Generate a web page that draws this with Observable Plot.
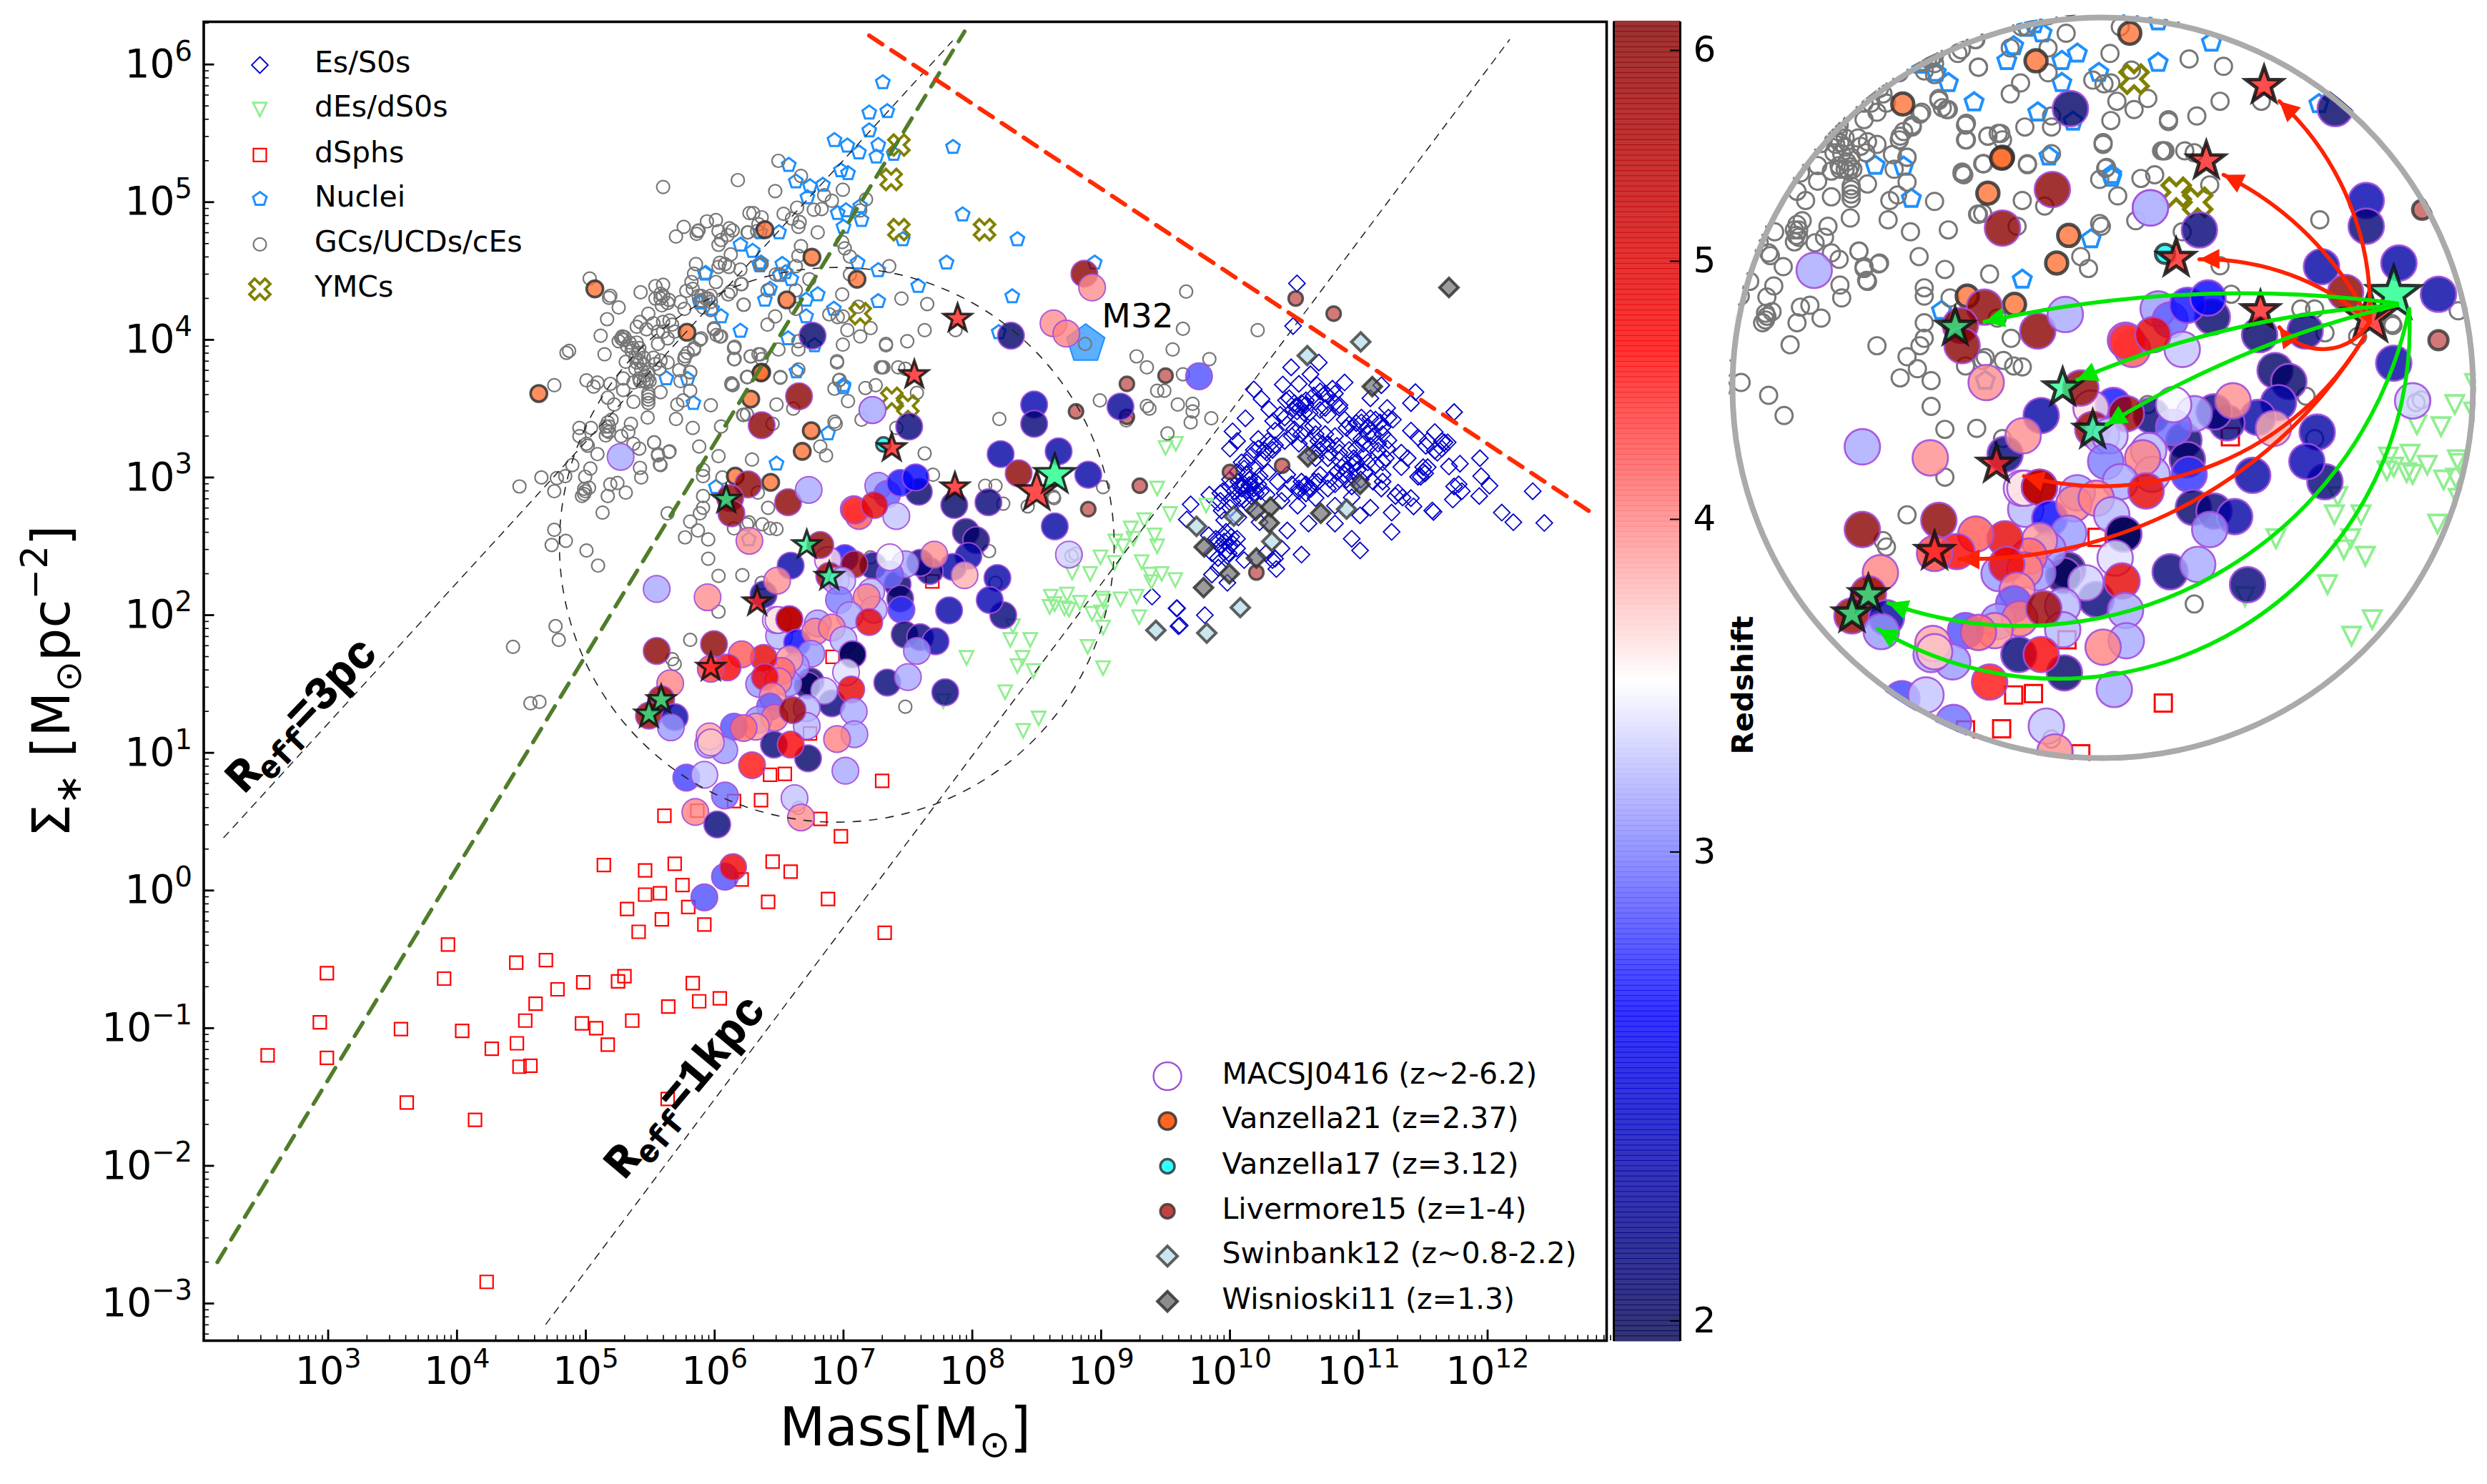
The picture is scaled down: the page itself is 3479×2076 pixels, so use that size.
<!DOCTYPE html>
<html><head><meta charset="utf-8">
<script src="https://cdn.jsdelivr.net/npm/d3@7"></script>
<script src="https://cdn.jsdelivr.net/npm/@observablehq/plot@0.6"></script>
<style>
html,body{margin:0;padding:0;background:#fff;color:#000}
#fig{position:relative;width:3479px;height:2076px;overflow:hidden;background:#fff}
#fig svg{position:absolute;overflow:visible}
</style></head><body><div id="fig"></div>
<script>
// All values are log10(mass), log10(surface density).
const esLog=[[10.52,4.41],[10.49,4.10],[10.69,3.835],[10.475,3.80],[10.625,3.75],[10.89,3.69],[10.675,3.67],[10.535,3.68],[10.41,3.675],[11.175,3.67],[11.44,3.62],[11.405,3.54],[11.09,3.575],[11.22,3.505],[10.795,3.645],[10.74,3.61],[10.185,3.64],[10.245,3.57],[10.435,3.56],[10.555,3.54],[10.665,3.55],[10.815,3.54],[11.74,3.475],[10.12,3.43],[10.305,3.495],[10.51,3.515],[10.62,3.47],[10.74,3.505],[10.85,3.505],[11.09,3.43],[11.23,3.435],[11.265,3.42],[10.335,3.41],[10.425,3.435],[10.535,3.42],[10.645,3.375],[11.02,3.435],[10.98,3.395],[11.185,3.365],[11.405,3.34],[11.59,3.33],[10.02,3.335],[10.055,3.265],[10.0,3.21],[10.22,3.28],[10.35,3.34],[10.48,3.30],[10.62,3.265],[10.815,3.30],[10.905,3.36],[10.96,3.315],[11.11,3.30],[11.23,3.27],[11.46,3.29],[11.535,3.265],[11.665,3.255],[11.69,3.255],[10.185,3.20],[10.27,3.195],[10.35,3.235],[10.425,3.265],[10.535,3.245],[10.70,3.20],[10.76,3.245],[10.83,3.23],[10.925,3.20],[11.035,3.245],[11.15,3.195],[11.21,3.14],[11.33,3.18],[11.38,3.14],[11.52,3.23],[11.61,3.18],[11.94,3.14],[10.13,3.11],[10.25,3.125],[10.11,3.065],[10.665,3.14],[10.76,3.14],[10.85,3.125],[10.96,3.14],[11.07,3.11],[11.13,3.09],[11.33,3.075],[11.5,3.075],[11.515,3.03],[11.48,3.005],[11.7,3.08],[11.785,3.10],[11.95,3.01],[10.0,2.985],[10.065,2.97],[10.15,2.985],[10.23,3.01],[10.37,2.97],[10.445,3.02],[10.59,2.95],[10.63,2.92],[10.70,3.02],[10.815,2.95],[10.89,3.02],[10.96,3.0],[11.045,3.04],[11.185,2.97],[11.175,2.92],[11.305,2.89],[11.775,2.95],[11.80,2.9],[11.74,2.935],[12.015,2.94],[11.935,2.865],[11.73,2.84],[9.84,2.875],[9.925,2.885],[10.035,2.90],[10.09,2.92],[10.165,2.935],[10.20,2.885],[10.11,2.84],[10.285,2.875],[10.425,2.885],[10.535,2.90],[10.59,2.885],[10.665,2.85],[10.76,2.92],[10.945,2.855],[11.285,2.865],[11.34,2.855],[11.405,2.85],[9.695,2.805],[9.907,2.815],[10.0,2.78],[10.15,2.795],[10.4,2.83],[10.525,2.795],[11.09,2.78],[11.425,2.79],[11.255,2.745],[9.935,2.76],[10.815,2.795],[11.01,2.725],[11.57,2.76],[11.58,2.75],[12.11,2.745],[12.2,2.675],[9.665,2.695],[9.955,2.69],[10.065,2.71],[10.23,2.675],[10.445,2.615],[10.61,2.665],[10.815,2.665],[11.255,2.605],[10.945,2.555],[11.01,2.47],[9.835,2.58],[9.905,2.545],[9.97,2.605],[10.02,2.52],[10.055,2.485],[9.955,2.535],[9.99,2.45],[10.4,2.485],[10.555,2.44],[9.86,2.45],[10.35,2.41],[10.11,2.40],[9.91,2.345],[10.36,2.335],[10.28,2.45],[9.86,2.295],[9.98,2.235],[9.59,2.05],[9.805,2.0],[9.61,1.925],[9.395,2.135],[9.585,2.05],[9.6,1.92],[10.5,3.54],[10.545,3.505],[10.585,3.525],[10.52,3.48],[10.575,3.47],[10.11,2.95],[10.15,2.945],[10.185,2.92],[10.08,2.935],[10.13,2.90],[10.195,2.97],[10.87,3.075],[10.905,3.05],[10.945,3.085],[10.99,3.055],[10.83,3.04],[10.315,3.245],[10.285,3.18],[10.33,3.20],[10.575,2.935],[10.655,2.97],[9.955,2.57],[10.0,2.505],[9.97,2.465],[12.35,2.90],[12.44,2.67],[10.46,3.575],[10.59,3.56],[10.65,3.595],[10.70,3.625],[10.76,3.595],[10.815,3.61],[10.85,3.525],[10.70,3.49],[10.76,3.455],[10.445,3.385],[10.39,3.455],[10.5,3.35],[10.555,3.315],[10.59,3.35],[10.665,3.315],[10.74,3.315],[10.685,3.265],[10.89,3.42],[10.925,3.385],[11.02,3.40],[11.07,3.37],[11.13,3.42],[11.165,3.40],[11.185,3.315],[11.07,3.315],[11.02,3.28],[10.98,3.21],[11.09,3.23],[11.15,3.245],[11.22,3.21],[11.185,3.11],[11.035,3.16],[10.98,3.11],[10.85,3.18],[10.775,3.18],[10.72,3.245],[10.65,3.18],[10.295,3.265],[10.22,3.21],[10.165,3.16],[10.09,3.11],[10.055,3.04],[10.13,3.02],[10.2,3.075],[10.295,3.04],[10.0,2.935],[9.945,2.90],[9.925,2.83],[10.02,2.83],[10.075,2.85],[10.165,2.865],[10.24,2.90],[10.22,2.95],[10.48,2.95],[10.555,2.97],[10.535,2.92],[10.61,2.92],[10.685,2.97],[10.775,2.985],[10.85,2.985],[10.905,2.985],[10.945,2.935],[11.015,2.985],[11.11,2.97],[11.185,3.02],[11.5,3.04],[11.46,3.005],[11.535,3.075],[11.645,3.21],[11.59,3.195],[11.645,3.264],[9.89,2.555],[9.925,2.50],[10.01,2.57],[9.98,2.43],[10.055,2.555],[10.33,2.40],[9.907,2.415]];
const deLog=[[9.435,2.92],[9.535,2.735],[9.815,2.795],[9.335,2.69],[9.23,2.63],[9.415,2.58],[9.435,2.50],[9.25,2.555],[9.11,2.535],[9.17,2.50],[8.995,2.42],[9.105,2.38],[9.315,2.385],[8.775,2.31],[8.915,2.30],[9.38,2.295],[9.47,2.30],[9.39,2.24],[9.575,2.255],[8.61,2.135],[8.735,2.15],[8.64,2.08],[8.60,2.06],[8.715,2.05],[8.75,2.04],[8.835,2.09],[9.01,2.12],[9.02,2.10],[9.15,2.115],[9.275,2.135],[8.93,2.01],[9.0,2.02],[9.295,1.985],[9.015,1.91],[8.315,1.92],[8.295,1.82],[8.45,1.82],[8.39,1.69],[7.955,1.69],[8.35,1.63],[8.475,1.595],[8.895,1.77],[9.015,1.615],[8.255,1.44],[8.515,1.25],[8.395,1.16],[7.775,1.375],[9.58,3.245],[9.5,3.215]];
const dsphLog=[[5.61,.543],[5.865,.58],[6.15,.65],[6.36,.656],[6.82,.52],[6.98,.394],[7.30,.796],[6.43,.84],[6.545,.847],[6.74,1.14],[5.14,.185],[5.46,.146],[5.69,.194],[5.75,.04],[5.575,-.02],[5.46,-.03],[5.32,-.134],[5.795,-.12],[5.59,-.21],[5.41,-.30],[5.92,-.247],[6.21,.08],[6.45,.21],[6.59,.137],[6.415,-.083],[6.88,-.062],[7.32,-.307],[3.93,-.393],[2.99,-.60],[3.90,-.64],[4.46,-.524],[4.69,-.506],[4.98,-.667],[5.25,-.66],[5.30,-.623],[4.78,-.718],[4.61,-.822],[5.83,-.673],[5.88,-.805],[6.04,-.784],[5.64,-.843],[5.36,-.945],[4.53,-.945],[4.97,-.965],[5.08,-1.0],[2.935,-.957],[3.565,-1.007],[4.04,-1.02],[2.53,-1.198],[2.99,-1.216],[4.27,-1.15],[4.465,-1.11],[4.485,-1.28],[4.57,-1.273],[5.17,-1.12],[3.61,-1.54],[4.14,-1.666],[5.635,-1.514],[4.23,-2.843],[7.69,2.245],[6.915,1.697]];
const nucLog=[[7.305,5.87],[7.2,5.65],[7.34,5.66],[7.20,5.52],[6.93,5.45],[7.03,5.41],[7.12,5.36],[7.27,5.415],[7.255,5.33],[7.39,5.35],[7.85,5.40],[6.575,5.27],[6.98,5.23],[7.035,5.21],[6.63,5.15],[6.74,5.115],[6.84,5.125],[6.72,5.035],[6.955,4.92],[7.02,4.94],[7.13,4.97],[7.14,4.87],[7.00,4.82],[7.925,4.91],[8.35,4.73],[7.46,4.73],[6.50,4.78],[6.355,4.78],[6.20,4.69],[6.295,4.645],[6.355,4.55],[6.35,4.54],[6.36,4.56],[6.345,4.55],[6.525,4.55],[7.11,4.56],[7.80,4.56],[7.27,4.505],[7.58,4.39],[8.31,4.315],[6.595,4.44],[6.55,4.49],[6.505,4.47],[6.43,4.37],[6.39,4.29],[6.71,4.29],[6.80,4.33],[7.27,4.28],[6.925,4.225],[6.71,4.17],[6.05,4.17],[6.2,4.065],[6.57,4.01],[6.775,3.96],[8.205,4.055],[5.93,4.485],[5.885,4.28],[5.98,4.225],[6.635,3.77],[5.79,3.715],[7.0,3.67],[8.95,4.56],[5.925,4.48],[5.625,3.72],[5.835,3.54],[5.90,4.275],[5.885,4.27],[7.0,3.655],[6.88,3.32],[6.48,3.10],[6.01,2.93],[6.265,2.55]];
const gcLog=[[5.60,5.11],[6.18,5.16],[6.27,4.92],[6.30,4.92],[6.01,4.87],[5.94,4.86],[5.76,4.82],[5.70,4.75],[5.87,4.79],[5.86,4.77],[5.875,4.795],[6.03,4.79],[6.115,4.81],[6.14,4.795],[6.10,4.76],[6.05,4.725],[6.03,4.69],[6.125,4.62],[6.255,4.78],[6.33,4.79],[5.855,4.55],[6.04,4.56],[6.08,4.55],[6.03,4.53],[6.11,4.53],[6.20,4.51],[5.84,4.48],[5.82,4.42],[6.01,4.42],[6.21,4.405],[5.03,4.445],[5.19,4.32],[5.18,4.305],[5.255,4.235],[5.425,4.345],[5.54,4.39],[5.60,4.40],[5.58,4.335],[5.54,4.30],[5.645,4.29],[5.59,4.25],[5.78,4.355],[5.735,4.275],[5.765,4.225],[5.83,4.37],[5.895,4.32],[5.93,4.30],[5.97,4.275],[5.91,4.235],[5.97,4.215],[6.105,4.33],[6.225,4.255],[5.165,4.15],[5.115,4.03],[5.145,3.895],[4.85,3.905],[4.87,3.92],[5.485,4.19],[5.42,4.13],[5.395,4.095],[5.525,4.12],[5.60,4.13],[5.65,4.14],[5.56,4.06],[5.69,4.06],[5.635,4.01],[5.56,3.97],[5.275,4.01],[5.255,3.99],[5.30,4.02],[5.34,3.98],[5.395,3.98],[5.415,3.94],[5.355,3.92],[5.895,4.01],[5.995,4.085],[6.04,4.025],[6.015,4.035],[5.84,3.94],[5.79,3.905],[5.765,3.86],[6.155,3.95],[6.155,3.86],[6.28,3.88],[6.34,3.895],[5.31,3.84],[5.385,3.87],[5.42,3.845],[5.45,3.82],[5.385,3.79],[5.54,3.825],[5.57,3.79],[5.635,3.835],[5.725,3.78],[5.81,3.765],[5.29,3.72],[5.19,3.68],[5.005,3.705],[5.09,3.69],[5.06,3.66],[4.755,3.67],[5.37,3.69],[5.42,3.70],[5.47,3.69],[5.495,3.70],[5.485,3.59],[5.485,3.54],[5.37,3.55],[5.58,3.62],[5.29,3.635],[5.17,3.58],[5.22,3.53],[5.735,3.70],[5.81,3.63],[5.71,3.53],[5.755,3.56],[5.97,3.525],[6.255,3.73],[6.13,3.675],[5.48,3.435],[5.35,3.39],[5.20,3.42],[5.70,3.425],[5.83,3.36],[6.05,3.37],[6.225,3.455],[5.88,3.225],[4.95,3.36],[5.04,3.36],[4.95,3.30],[5.165,3.34],[5.18,3.37],[5.155,3.305],[5.275,3.30],[5.33,3.33],[5.53,3.255],[5.37,3.245],[5.415,3.21],[5.56,3.17],[5.645,3.185],[5.015,3.23],[5.09,3.17],[5.42,3.07],[5.575,3.095],[6.03,3.155],[5.43,3.00],[4.895,3.09],[5.035,3.065],[4.995,3.005],[4.84,3.01],[4.775,2.995],[4.655,3.0],[4.485,2.935],[4.755,2.90],[5.025,2.925],[4.995,2.90],[5.19,2.95],[5.245,2.96],[5.31,2.89],[5.17,2.865],[4.97,2.865],[5.91,3.055],[5.91,3.01],[6.29,3.13],[6.06,3.0],[5.13,2.745],[4.755,2.62],[4.845,2.54],[4.735,2.51],[5.005,2.47],[5.095,2.36],[4.765,1.92],[4.79,1.82],[4.435,1.77],[4.57,1.36],[4.64,1.37],[5.635,2.74],[5.53,3.255],[5.56,3.16],[5.65,3.19],[5.58,3.09],[5.91,2.865],[5.81,2.68],[5.885,2.74],[5.91,2.78],[5.87,2.615],[5.77,2.565],[5.95,2.55],[5.95,2.41],[6.03,2.285],[6.215,2.29],[6.03,2.025],[6.15,2.63],[6.25,2.66],[6.37,2.66],[6.43,2.63],[6.48,2.625],[6.415,2.78],[6.335,2.89],[5.81,1.82],[5.67,1.68],[5.69,1.645],[6.265,2.675],[7.21,2.42],[6.365,2.235],[7.48,1.335],[6.65,.60],[6.14,3.67],[6.25,3.73],[6.51,3.725],[6.61,3.50],[6.48,3.53],[6.22,3.455],[6.25,3.46],[6.45,3.39],[6.93,3.645],[6.97,3.71],[7.035,3.555],[7.17,3.65],[7.25,3.67],[7.31,3.80],[7.29,3.80],[7.425,3.80],[7.48,3.79],[6.95,3.835],[7.57,3.615],[7.41,3.36],[6.93,3.405],[6.94,3.39],[6.865,3.16],[6.82,3.225],[7.63,3.175],[7.695,3.02],[8.21,3.425],[8.10,2.94],[8.18,2.94],[8.24,2.81],[8.43,2.79],[8.635,2.85],[8.13,2.465],[8.18,2.235],[8.77,2.43],[7.14,3.42],[6.495,5.30],[6.47,5.08],[6.67,5.19],[6.85,5.05],[6.995,5.09],[6.91,5.01],[6.77,4.945],[6.83,4.95],[6.64,4.96],[6.535,4.915],[6.60,4.88],[6.66,4.855],[6.65,4.82],[7.175,5.02],[7.13,4.94],[6.80,4.78],[6.365,4.89],[6.34,4.84],[6.26,4.78],[6.99,4.71],[7.01,4.665],[6.67,4.68],[6.65,4.61],[7.05,4.605],[7.355,4.535],[6.63,4.535],[6.475,4.475],[6.505,4.475],[6.365,4.55],[6.355,4.545],[6.735,4.44],[7.05,4.475],[6.99,4.33],[7.45,4.30],[7.65,4.26],[6.41,4.36],[6.225,4.255],[6.205,4.405],[6.125,4.35],[6.63,4.36],[6.47,4.17],[6.41,4.11],[6.63,4.225],[6.89,4.185],[6.955,4.165],[6.995,4.17],[7.03,4.07],[7.21,4.085],[7.13,4.025],[7.115,4.24],[7.63,4.07],[7.87,4.07],[7.495,3.99],[7.33,3.97],[7.33,3.96],[6.995,3.965],[6.95,3.845],[6.495,3.93],[6.65,3.93],[6.65,3.99],[6.15,3.94],[6.15,3.86],[6.28,3.88],[6.355,3.895],[6.365,3.86],[7.30,3.80],[6.255,3.73],[6.51,3.73],[6.65,3.785],[6.13,3.685],[6.965,3.705],[6.05,4.025],[5.995,4.075],[5.885,4.0],[5.84,3.93],[5.77,3.88],[5.81,3.765],[9.66,4.35],[10.215,4.07],[9.635,4.08],[9.555,3.93],[9.275,3.88],[9.355,3.80],[9.84,3.86],[9.635,3.75],[9.435,3.63],[9.49,3.63],[8.99,3.56],[9.355,3.52],[9.375,3.50],[9.595,3.53],[9.71,3.535],[9.71,3.48],[9.855,3.43],[9.695,3.40],[9.515,3.32],[9.195,3.415],[8.875,3.97],[9.015,2.93],[8.63,2.86],[8.80,2.445],[5.41,3.905],[5.45,3.87],[5.395,3.835],[5.43,3.785],[5.485,3.765],[5.525,3.87],[5.58,3.85],[5.415,3.72],[5.45,3.70],[5.48,3.714],[5.46,3.74],[5.283,4.025],[5.29,4.0],[5.32,3.955],[5.365,3.94],[5.47,4.077],[5.58,4.30],[5.60,4.32],[5.635,4.267],[5.895,4.285],[5.95,4.30],[5.875,4.32],[5.97,4.32],[5.67,4.11],[5.60,4.06],[5.485,3.61],[5.485,3.565],[5.155,3.37],[5.18,3.33],[5.17,3.40],[5.005,3.245],[4.987,2.917],[4.987,2.88]];
const ymcLog=[[7.43,5.415],[7.37,5.165],[7.43,4.80],[8.095,4.80],[7.13,4.19],[7.375,3.575],[7.50,3.52]];
const m32Log=[[8.88,3.97]];
// log10(mass), log10(density), redshift
const macsLog=[[5.27,3.15,3.15],[6.655,3.59,6],[6.365,3.38,6],[6.76,4.03,2.05],[8.30,4.03,2.05],[7.225,3.49,3.15],[7.225,3.49,3.2],[7.51,3.37,2.1],[8.48,3.53,2.3],[8.48,3.39,2.1],[8.22,3.17,2.25],[8.67,3.19,2.25],[8.36,3.03,6],[8.90,3.02,2.25],[8.64,2.645,2.25],[8.75,2.44,3.3],[9.15,3.515,2.2],[8.87,4.48,6],[8.93,4.38,3.95],[8.63,4.12,3.95],[8.73,4.045,4.0],[9.76,3.735,2.85],[6.26,2.95,6],[6.12,2.85,6],[6.13,2.74,6],[6.57,2.82,6],[6.73,2.91,3.15],[6.27,2.54,3.95],[5.945,2.13,3.95],[5.55,2.19,3.15],[7.27,2.94,3.1],[7.34,2.88,2.9],[7.585,2.896,2.05],[7.44,2.96,2.65],[7.56,3.0,2.6],[7.12,2.72,4.2],[7.08,2.77,4.3],[7.09,2.76,4.4],[7.41,2.72,3.25],[7.24,2.80,4.9],[7.86,2.80,2.05],[8.125,2.82,2.1],[7.95,2.605,2.05],[8.03,2.545,2.05],[7.97,2.43,2.25],[7.85,2.35,2.25],[7.67,2.32,2.1],[7.595,2.38,2.1],[7.705,2.44,3.95],[7.94,2.29,3.8],[7.42,2.225,2.05],[7.44,2.12,2.05],[7.23,2.36,2.1],[7.48,2.37,3.15],[7.36,2.295,2.95],[7.36,2.42,3.45],[7.45,2.04,2.75],[7.01,2.415,2.65],[6.88,2.40,3.6],[6.82,2.51,6],[6.89,2.285,5.8],[7.085,2.37,5.8],[6.59,2.36,2.25],[6.38,2.15,2.1],[6.485,2.25,3.95],[6.94,2.25,3.25],[6.99,2.25,3.25],[6.965,2.11,3.0],[7.215,2.17,3.2],[7.235,2.04,3.2],[7.18,2.13,4.0],[7.05,2.0,3.15],[7.20,1.95,4.9],[7.82,2.035,2.25],[8.195,2.27,2.25],[8.24,2.0,2.1],[8.135,2.11,2.3],[7.475,1.86,2.05],[7.595,1.84,2.1],[7.715,1.81,2.25],[7.57,1.74,3.1],[7.34,1.51,2.1],[7.50,1.55,3.15],[7.79,1.44,2.1],[6.50,1.85,3.2],[6.475,1.965,3.4],[6.495,1.965,3.6],[6.58,1.97,5.4],[6.58,1.97,5.4],[6.64,1.80,2.6],[6.80,1.94,3.15],[6.78,1.88,4.0],[6.91,1.91,4.0],[7.0,1.82,3.2],[6.75,1.72,3.1],[7.07,1.715,2.0],[7.07,1.715,2.0],[7.02,1.585,3.35],[6.745,1.52,2.0],[6.72,1.49,2.0],[6.91,1.36,2.1],[7.06,1.46,4.9],[6.85,1.45,3.3],[6.345,1.50,3.1],[6.63,1.63,3.1],[6.57,1.505,3.1],[6.58,1.68,3.9],[6.52,1.595,4.1],[6.495,1.52,4.0],[6.38,1.69,4.9],[6.39,1.55,4.8],[6.45,1.41,3.95],[6.21,1.715,4.2],[5.995,1.79,6],[6.10,1.62,4.7],[5.97,1.61,4.3],[5.55,1.74,6],[5.655,1.505,4.0],[5.585,1.39,5.8],[5.49,1.27,5.8],[5.69,1.26,2.25],[5.66,1.185,3.1],[6.43,1.335,2.9],[6.715,1.325,3.2],[7.08,1.30,3.15],[7.085,1.135,3.15],[6.95,1.10,4.0],[6.715,1.195,3.2],[6.34,1.24,3.1],[6.465,1.255,4.05],[6.605,1.31,5.8],[6.32,1.19,3.9],[6.15,1.19,2.85],[6.225,1.18,4.1],[6.075,1.02,3.1],[5.95,1.06,3.15],[5.96,1.12,3.85],[5.97,1.075,3.7],[6.46,1.06,2.1],[6.725,.96,2.05],[6.59,1.06,4.7],[6.29,.91,4.55],[7.015,.87,3.15],[5.78,.82,2.8],[5.92,.84,3.25],[6.08,.69,2.95],[5.85,.57,4.0],[6.62,.67,3.25],[6.67,.53,3.95],[6.02,.48,2.1],[6.08,.10,2.85],[6.143,.17,4.8],[5.92,-.05,2.85]];
const v21Log=[[5.07,4.37],[4.635,3.61],[5.785,4.055],[6.28,3.57],[6.16,3.01],[6.39,4.80],[6.755,4.60],[7.105,4.44],[6.56,4.29],[6.365,3.765],[6.36,3.76],[6.75,3.34],[6.68,3.19],[6.435,2.965]];
const v17Log=[[7.31,3.24]];
const livLog=[[10.51,4.30],[10.805,4.19],[9.50,3.74],[9.20,3.68],[8.805,3.48],[9.20,3.44],[9.30,2.94],[8.90,2.77],[10.0,3.04],[10.405,3.085],[10.205,2.31]];
const swinLog=[[11.015,3.985],[10.6,3.885],[10.03,2.72],[9.74,2.645],[10.325,2.535],[10.905,2.77],[10.08,2.055],[9.82,1.87],[9.425,1.89]];
const wisLog=[[11.70,4.38],[11.105,3.66],[10.605,3.15],[11.01,2.95],[10.2,2.76],[10.315,2.785],[10.305,2.67],[10.705,2.74],[9.80,2.495],[10.205,2.415],[9.995,2.30],[9.795,2.20]];
const redStarLog=[[7.886,4.155],[7.55,3.745],[7.375,3.215],[7.865,2.93],[6.33,2.095],[5.97,1.62]];
const greenStarLog=[[6.09,2.84],[6.715,2.51],[6.89,2.28],[5.585,1.385],[5.49,1.28]];
const bigRedLog=[[8.50,2.895]];
const bigGreenLog=[[8.64,3.02]];
const line3pc=[[2.19,.385],[7.845,6.17]];
const line1kpc=[[4.69,-3.15],[12.17,6.18]];
const lineGreen=[[2.14,-2.70],[7.94,6.24]];
const lineRed=[[7.2,6.21],[12.83,2.73]];
const circleCentre=[[6.948,2.511]];
const redArrows=[[8.50,2.87,7.975,4.07,-25],[8.50,2.87,7.65,3.67,-19],[8.50,2.87,7.51,3.21,-21],[8.50,2.87,7.975,2.84,57],[8.47,2.79,6.49,2.03,37],[8.47,2.79,6.115,1.58,30]];
const greenArrows=[[8.66,2.97,6.26,2.87,-10],[8.66,2.96,6.80,2.555,-10],[8.66,2.96,6.97,2.31,-9],[8.73,2.94,5.70,1.34,49],[8.73,2.94,5.64,1.20,62]];
const legendTop=["Es/S0s","dEs/dS0s","dSphs","Nuclei","GCs/UCDs/cEs","YMCs"];
const legendBottom=["MACSJ0416 (z~2-6.2)","Vanzella21 (z=2.37)","Vanzella17 (z=3.12)","Livermore15 (z=1-4)","Swinbank12 (z~0.8-2.2)","Wisnioski11 (z=1.3)"];
const xTickExp=[3,4,5,6,7,8,9,10,11,12];
const yTickExp=[-3,-2,-1,0,1,2,3,4,5,6];
const zTicks=[2,3,4,5,6];

const R=s=>Math.sqrt(s/Math.PI);
const poly=pts=>(c,s)=>{const r=R(s);pts.forEach(([a,b],i)=>i?c.lineTo(a*r,b*r):c.moveTo(a*r,b*r));c.closePath();};
const sym=pts=>({draw:poly(pts)});
const symPent=sym(d3.range(5).map(i=>[Math.cos(-Math.PI/2+i*2*Math.PI/5),Math.sin(-Math.PI/2+i*2*Math.PI/5)]));
const symStar=sym(d3.range(10).map(i=>{const q=i%2?0.4:1,a=-Math.PI/2+i*Math.PI/5;return [q*Math.cos(a),q*Math.sin(a)];}));
const symDown=sym([[-1,-1],[1,-1],[0,1]]);
const symDiam=sym([[0,-1],[1,0],[0,1],[-1,0]]);
const symSq=sym([[-1,-1],[1,-1],[1,1],[-1,1]]);
const symX=sym([[-.5,-1],[0,-.5],[.5,-1],[1,-.5],[.5,0],[1,.5],[.5,1],[0,.5],[-.5,1],[-1,.5],[-.5,0],[-1,-.5]]);
const symHead=sym([[0,0],[-1,-.5],[-1,.5]]);

const X=d=>10**d[0],Y=d=>10**d[1];
const seismic=d3.piecewise(d3.interpolateRgb,["#00004d","#0000ff","#ffffff","#ff0000","#800000"]);
const zDomain=[1.965,6.15];
const colorScale={type:"log",domain:zDomain,interpolate:seismic};

const styles={
 es:{symbol:symDiam,r:11.5,fill:"none",stroke:"#0000cd",strokeWidth:1.8},
 de:{symbol:symDown,r:9.5,fill:"none",stroke:"#90ee90",strokeWidth:2.8},
 ds:{symbol:symSq,r:9,fill:"none",stroke:"#ff0000",strokeWidth:2.2},
 nu:{symbol:symPent,r:10,fill:"none",stroke:"#1e90ff",strokeWidth:3},
 gc:{r:9,fill:"none",stroke:"#777777",strokeWidth:2.2},
 ym:{symbol:symX,r:14.5,fill:"none",stroke:"#808000",strokeWidth:3.8},
 v21:{r:11.5,fill:"#ff6a2a",fillOpacity:.75,stroke:"#333",strokeOpacity:.85,strokeWidth:3.6},
 v17:{r:10,fill:"#00ffff",fillOpacity:.8,stroke:"#333",strokeOpacity:.85,strokeWidth:3.4},
 li:{r:10,fill:"#b92f2f",fillOpacity:.65,stroke:"#333",strokeOpacity:.8,strokeWidth:3.4},
 sw:{symbol:symDiam,r:13,fill:"#add8e6",fillOpacity:.65,stroke:"#444",strokeOpacity:.85,strokeWidth:4},
 wi:{symbol:symDiam,r:13,fill:"#666",fillOpacity:.65,stroke:"#333",strokeOpacity:.85,strokeWidth:4}
};
const scaled=(st,k)=>({...st,r:st.r*k,strokeWidth:st.strokeWidth*k});
function scatter(k){
 const d=(data,st)=>Plot.dot(data,{x:X,y:Y,...scaled(st,k)});
 return [
  d(esLog,styles.es),d(deLog,styles.de),d(dsphLog,styles.ds),
  Plot.dot(m32Log,{x:X,y:Y,symbol:symPent,r:28*k,fill:"#1e90ff",fillOpacity:.72,stroke:"#1e90ff",strokeWidth:2}),
  d(nucLog,styles.nu),d(gcLog,styles.gc),d(ymcLog,styles.ym),
  d(livLog,styles.li),d(swinLog,styles.sw),d(wisLog,styles.wi),d(v21Log,styles.v21),d(v17Log,styles.v17),
  Plot.dot(macsLog,{x:X,y:Y,r:18.6*k,fill:d=>d[2],fillOpacity:.8,stroke:"#a24fdc",strokeOpacity:.9,strokeWidth:2*k})
 ];
}
function stars(k){
 const s=(data,r,fill,op)=>Plot.dot(data,{x:X,y:Y,symbol:symStar,r:r*k,fill,fillOpacity:op,stroke:"#111",strokeOpacity:.85,strokeWidth:3.6*k,strokeLinejoin:"miter"});
 return [s(redStarLog,20,"#ff2020",.8),s(greenStarLog,20,"#20ff8c",.72),s(bigRedLog,29,"#ff2020",.8),s(bigGreenLog,29,"#20ff8c",.8)];
}
const subSup=svg=>{
 svg.querySelectorAll("text").forEach(t=>{
  const nodes=t.querySelectorAll("tspan").length?[...t.querySelectorAll("tspan")]:[t];
  nodes.forEach(n=>{
   const s=n.textContent;
   if(!/[\^_]\{/.test(s))return;
   const fs=parseFloat(getComputedStyle(t).fontSize);
   const parts=s.split(/([\^_]\{[^}]*\})/).filter(p=>p.length);
   n.textContent="";
   let back=0;
   parts.forEach(p=>{
    const m=p.match(/^([\^_])\{([^}]*)\}$/);
    const ts=document.createElementNS("http://www.w3.org/2000/svg","tspan");
    if(m){
     const shift=(m[1]==="^"?-.42:.22)*fs;
     ts.setAttribute("dy",(shift+back).toFixed(1));
     ts.setAttribute("font-size",(fs*.7).toFixed(1));
     ts.textContent=m[2];back=-shift;
    }else{
     if(back)ts.setAttribute("dy",back.toFixed(1));
     ts.textContent=p;back=0;
    }
    n.appendChild(ts);
   });
  });
 });
};

// ---- main panel ----
const L=284.5,T=30,RIGHT=2247,BOT=1875;
const minors=(a,b)=>{const o=[];for(let e=a;e<=b;e++)for(let m=2;m<10;m++)o.push(m*10**e);return o;};
const tickText=v=>{const e=Math.round(Math.log10(v));return `10^{${e<0?"\u2212"+(-e):e}}`;};
const lineMark=(pts,o)=>Plot.line(pts,{x:X,y:Y,...o});
const thin={stroke:"#222",strokeWidth:1.5,strokeDasharray:"10 9"};
const legendDot=(st,dx,dy)=>Plot.dot([0],{frameAnchor:"top-left",dx:dx-L,dy:dy-T,...st});
const legendText=(s,dx,dy)=>Plot.text([s],{text:d=>d,frameAnchor:"top-left",dx:dx-L,dy:dy-T-3,textAnchor:"start",lineAnchor:"middle",fontSize:41});
const topStyles=[styles.es,styles.de,styles.ds,styles.nu,styles.gc,styles.ym];
const topRows=[90.5,152.6,216.4,278,341.4,404];
const botRows=[1505,1567.7,1631,1694,1756.7,1820];
const botStyles=[{r:19.5,fill:"none",stroke:"#a24fdc",strokeWidth:2.4},{...styles.v21,r:12,fillOpacity:1,fill:"#ff6420"},{...styles.v17,r:10},{...styles.li,r:10,fillOpacity:.9},{...styles.sw,r:14},{...styles.wi,fillOpacity:.75,r:14}];
const reff={text:d=>d,fontFamily:"'Liberation Mono'",fontWeight:"bold",fontSize:64,stroke:"#000",strokeWidth:1.2,fill:"#000"};
const main=Plot.plot({
 width:3479,height:2076,marginLeft:L,marginRight:3479-RIGHT,marginTop:T,marginBottom:2076-BOT,
 style:{fontFamily:"'DejaVu Sans'",background:"transparent"},
 x:{type:"log",domain:[10**2.034,10**12.924]},
 y:{type:"log",domain:[10**-3.27,10**6.31]},
 color:colorScale,
 marks:[
  ...scatter(1),
  lineMark(line3pc,thin),lineMark(line1kpc,thin),
  Plot.dot(circleCentre,{x:X,y:Y,r:388,fill:"none",stroke:"#222",strokeWidth:1.6,strokeDasharray:"12 11"}),
  lineMark(lineGreen,{stroke:"#4f7d2a",strokeWidth:5.5,strokeDasharray:"22 15"}),
  lineMark(lineRed,{stroke:"#ff2a00",strokeWidth:6,strokeDasharray:"22 15"}),
  ...stars(1),
  Plot.text(["M32"],{text:d=>d,x:[10**9.284],y:[10**4.17],fontSize:47}),
  Plot.text(["R_{eff}=3pc"],{...reff,x:[10**2.79],y:[10**1.28],rotate:-46}),
  Plot.text(["R_{eff}=1kpc"],{...reff,x:[10**5.766],y:[10**-1.42],rotate:-50}),
  ...legendTop.flatMap((s,i)=>[legendDot(topStyles[i],363,topRows[i]),legendText(s,439.4,topRows[i])]),
  ...legendBottom.flatMap((s,i)=>[legendDot(botStyles[i],1632.6,botRows[i]),legendText(s,1709,botRows[i])]),
  Plot.frame({stroke:"#000",strokeWidth:3.6}),
  Plot.axisX(xTickExp.map(e=>10**e),{tickSize:-15,strokeWidth:2.8,fill:"none",label:null}),
  Plot.axisX(minors(2,12),{tickSize:-7.5,strokeWidth:1.6,fill:"none",label:null}),
  Plot.axisY(yTickExp.map(e=>10**e),{tickSize:-15,strokeWidth:2.8,fill:"none",label:null}),
  Plot.axisY(minors(-4,6).filter(v=>v>10**-3.27&&v<10**6.31),{tickSize:-7.5,strokeWidth:1.6,fill:"none",label:null}),
  Plot.axisX(xTickExp.map(e=>10**e),{tickSize:0,tickPadding:22,fontSize:54,tickFormat:tickText,label:null}),
  Plot.axisY(yTickExp.map(e=>10**e),{tickSize:0,tickPadding:16,fontSize:55,tickFormat:tickText,label:null}),
  Plot.text(["Mass[M_{\u2299}]"],{text:d=>d,frameAnchor:"bottom",dy:146,fontSize:74}),
  Plot.text(["\u03a3_{\u2217} [M_{\u2299}pc^{\u22122}]"],{text:d=>d,frameAnchor:"left",textAnchor:"middle",dx:73-L,dy:0,rotate:-90,fontSize:73})
 ]
});
main.style.left="0px";main.style.top="0px";

// ---- colour bar ----
const levels=d3.range(256).map(i=>{const a=.29324,s=.49565/256;return {lo:10**(a+i*s),hi:10**(a+(i+1)*s+.00027),z:10**(a+(i+.5)*s)};});
const cb=Plot.plot({
 width:230,height:2076,marginLeft:7,marginRight:130,marginTop:30,marginBottom:2076-1876,
 style:{fontFamily:"'DejaVu Sans'",background:"transparent"},
 x:{domain:[0,1],axis:null},
 y:{type:"log",domain:zDomain},
 color:colorScale,
 marks:[
  Plot.rect(levels,{x1:0,x2:1,y1:"lo",y2:"hi",fill:"z",fillOpacity:.8}),
  Plot.ruleX([0,1],{stroke:"#000",strokeWidth:3}),
  Plot.axisY(zTicks,{anchor:"right",tickSize:-15,strokeWidth:2,fill:"none",label:null}),
  Plot.axisY(zTicks,{anchor:"right",tickSize:0,tickPadding:18,fontSize:50,tickFormat:d=>String(d),label:null}),
  Plot.text(["Redshift"],{text:d=>d,frameAnchor:"left",textAnchor:"middle",dx:181,dy:5,rotate:-90,fontWeight:"bold",fontSize:41})
 ]
});
cb.style.left="2250px";cb.style.top="0px";

// ---- magnified circular inset ----
const ZOOM=1.335,SIZE=1046;
const xSpan=SIZE/2/(180.2*ZOOM),ySpan=SIZE/2/(192.6*ZOOM);
const cx=circleCentre[0][0],cy=circleCentre[0][1];
const arrowMarks=(list,color)=>list.map(a=>Plot.arrow([a],{x1:d=>10**d[0],y1:d=>10**d[1],x2:d=>10**d[2],y2:d=>10**d[3],bend:a[4],headLength:0,stroke:color,strokeWidth:5.5}));
const tipAngle=a=>{const dx=(a[2]-a[0])*180.2*ZOOM,dy=-(a[3]-a[1])*192.6*ZOOM;return Math.atan2(dy,dx)*180/Math.PI+a[4];};
const headMark=(list,color)=>Plot.dot(list,{x:d=>10**d[2],y:d=>10**d[3],symbol:symHead,r:28,rotate:tipAngle,fill:color,stroke:"none"});
const inset=Plot.plot({
 width:SIZE,height:SIZE,margin:0,
 style:{fontFamily:"'DejaVu Sans'",background:"transparent"},
 x:{type:"log",domain:[10**(cx-xSpan),10**(cx+xSpan)],axis:null},
 y:{type:"log",domain:[10**(cy-ySpan),10**(cy+ySpan)],axis:null},
 color:colorScale,
 marks:[
  Plot.dot(circleCentre,{x:X,y:Y,r:518,fill:"#fff",stroke:"none"}),
  ...scatter(ZOOM),...stars(ZOOM),
  ...arrowMarks(redArrows,"#ff2200"),headMark(redArrows,"#ff2200"),
  ...arrowMarks(greenArrows,"#00e800"),headMark(greenArrows,"#00e800"),
  Plot.dot(circleCentre,{x:X,y:Y,r:518,fill:"none",stroke:"#aaaaaa",strokeWidth:8})
 ]
});
inset.style.left=(2941-SIZE/2)+"px";inset.style.top=(542-SIZE/2)+"px";
inset.style.overflow="hidden";
inset.style.clipPath="circle(523px at 50% 50%)";

const fig=document.getElementById("fig");
fig.append(main,cb,inset);
subSup(main);
</script></body></html>
